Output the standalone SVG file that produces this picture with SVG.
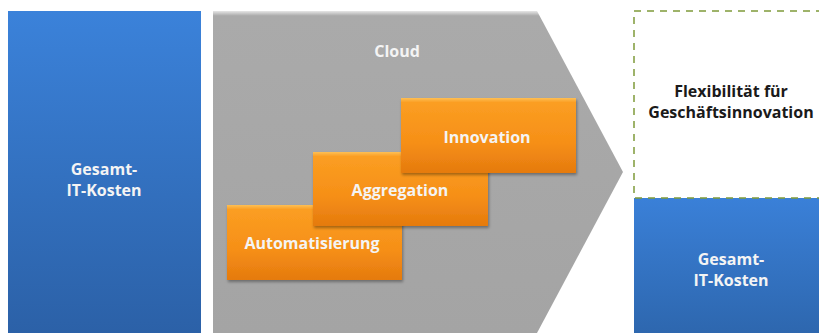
<svg xmlns="http://www.w3.org/2000/svg" width="819" height="333" viewBox="0 0 819 333">
<defs>
<linearGradient id="blue" x1="0" y1="0" x2="0" y2="1">
<stop offset="0" stop-color="#3b82da"/>
<stop offset="1" stop-color="#2b60a6"/>
</linearGradient>
<linearGradient id="blue2" x1="0" y1="0" x2="0" y2="1">
<stop offset="0" stop-color="#3a80d8"/>
<stop offset="1" stop-color="#2d66ad"/>
</linearGradient>
<linearGradient id="orange" x1="0" y1="0" x2="0" y2="1">
<stop offset="0" stop-color="#fdbf55"/>
<stop offset="0.06" stop-color="#fb9e22"/>
<stop offset="0.6" stop-color="#f68f17"/>
<stop offset="1" stop-color="#e57a0e"/>
</linearGradient>
<linearGradient id="gray" x1="0" y1="0" x2="0" y2="1">
<stop offset="0" stop-color="#e6e6e6"/>
<stop offset="0.015" stop-color="#aaaaaa"/>
<stop offset="1" stop-color="#a4a4a4"/>
</linearGradient>
<filter id="sh" x="-10%" y="-10%" width="125%" height="130%">
<feDropShadow dx="1" dy="2" stdDeviation="1.5" flood-color="#000" flood-opacity="0.35"/>
</filter>
</defs>
<style>
.t{font-family:"Open Sans","Liberation Sans",sans-serif;font-weight:bold;text-anchor:middle;font-size:16px}
.w{fill:#f4f4f4}
.d{fill:#1a1a1a}
.ob{fill:url(#orange);filter:url(#sh)}
</style>
<rect x="0" y="0" width="819" height="333" fill="#ffffff"/>
<g id="left-cost">
<rect x="8" y="11" width="193" height="330" fill="url(#blue)"/>
<text class="t w" x="104" y="175">Gesamt-</text>
<text class="t w" x="104" y="196">IT-Kosten</text>
</g>
<g id="cloud">
<polygon points="213,11 537,11 623,172 537,333 213,333" fill="url(#gray)"/>
<text class="t w" x="397" y="57">Cloud</text>
</g>
<g id="automatisierung">
<rect class="ob" x="227" y="205" width="175" height="75"/>
<text class="t w" x="312" y="249">Automatisierung</text>
</g>
<g id="aggregation">
<rect class="ob" x="313" y="152" width="175" height="74"/>
<text class="t w" x="400" y="196">Aggregation</text>
</g>
<g id="innovation">
<rect class="ob" x="401" y="98" width="175" height="75"/>
<text class="t w" x="487" y="143">Innovation</text>
</g>
<g id="right-cost">
<rect x="634" y="198" width="190" height="140" fill="url(#blue2)"/>
<text class="t w" x="731" y="265">Gesamt-</text>
<text class="t w" x="731" y="286">IT-Kosten</text>
</g>
<g id="flexibility">
<rect x="634" y="11" width="190" height="187" fill="none" stroke="#7f9a3a" stroke-width="1.5" stroke-dasharray="7,6"/>
<text class="t d" x="731" y="97">Flexibilität für</text>
<text class="t d" x="731" y="118">Geschäftsinnovation</text>
</g>
</svg>
